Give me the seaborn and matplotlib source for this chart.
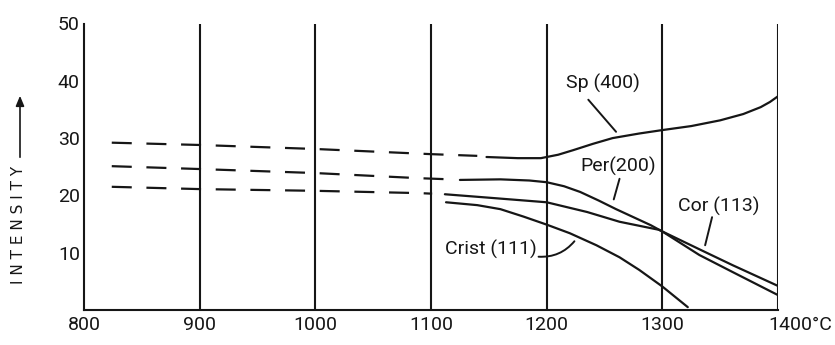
import numpy as np
import pandas as pd
import matplotlib
matplotlib.use("Agg")
import matplotlib.pyplot as plt
import matplotlib.transforms as mtransforms
import seaborn as sns

# ---------------- data ----------------
x_ticks = [800, 900, 1000, 1100, 1200, 1300, 1400]
x_tick_labels = ["800", "900", "1000", "1100", "1200", "1300", "1400°C"]
y_ticks = [10, 20, 30, 40, 50]
y_tick_labels = ["10", "20", "30", "40", "50"]
grid_x = [900, 1000, 1100, 1200, 1300, 1400]

# Sp(400)
sp_dash_x = [824, 900, 1000, 1100, 1140]
sp_dash_y = [29.2, 28.8, 28.1, 27.2, 26.9]
sp_x = [1148, 1175, 1195, 1210, 1223, 1240, 1257, 1280, 1300, 1325, 1350, 1370, 1385, 1393, 1400]
sp_y = [26.7, 26.5, 26.5, 27.1, 27.9, 29.0, 30.0, 30.8, 31.4, 32.1, 33.1, 34.2, 35.4, 36.3, 37.3]

# Per(200)
per_dash_x = [824, 900, 1000, 1090, 1117]
per_dash_y = [25.1, 24.6, 23.9, 23.0, 22.8]
per_x = [1125, 1160, 1185, 1200, 1215, 1229, 1245, 1260, 1275, 1290, 1300, 1332, 1361, 1400]
per_y = [22.7, 22.8, 22.6, 22.3, 21.6, 20.6, 19.1, 17.6, 16.2, 14.8, 13.7, 9.6, 6.6, 2.6]

# Cor(113)
cor_dash_x = [824, 900, 1000, 1090, 1101]
cor_dash_y = [21.5, 21.1, 20.8, 20.4, 20.3]
cor_x = [1112, 1150, 1200, 1235, 1263, 1297, 1332, 1361, 1400]
cor_y = [20.2, 19.6, 18.8, 17.1, 15.4, 14.0, 10.6, 7.8, 4.2]

# Crist(111)
crist_x = [1113, 1140, 1160, 1180, 1200, 1220, 1243, 1263, 1280, 1300, 1322]
crist_y = [18.8, 18.3, 17.6, 16.3, 14.9, 13.4, 11.3, 9.2, 7.0, 4.1, 0.5]

# labels: (text, text x, text y, horizontal alignment, pointer start, pointer end, curvature)
labels = [
    ("Sp (400)", 1249, 39.6, "center", (1236, 36.7), (1260, 31.1), 0.0),
    ("Per(200)", 1262, 25.0, "center", (1263, 22.9), (1258, 19.3), 0.0),
    ("Cor (113)", 1349, 18.0, "center", (1343, 16.2), (1337, 11.3), 0.0),
    ("Crist (111)", 1191, 10.6, "right", (1193, 9.3), (1224, 12.0), 0.25),
]

# ---------------- style ----------------
sns.set_style("white")
plt.rcParams["font.family"] = ["Roboto", "DejaVu Sans"]
INK = "#161616"
LW = 1.6

fig = plt.figure(figsize=(8.35, 3.45), dpi=100)
ax = fig.add_axes([84 / 835, 1 - 310 / 345, (778 - 84) / 835, (310 - 23.5) / 345])

dash_style = (0, (9.0, 6.6))
for dx, dy in [(sp_dash_x, sp_dash_y), (per_dash_x, per_dash_y), (cor_dash_x, cor_dash_y)]:
    sns.lineplot(x=dx, y=dy, ax=ax, color=INK, lw=LW, linestyle=dash_style)
for sx, sy in [(sp_x, sp_y), (per_x, per_y), (cor_x, cor_y), (crist_x, crist_y)]:
    sns.lineplot(x=sx, y=sy, ax=ax, color=INK, lw=LW)

for gx in grid_x:
    ax.axvline(gx, color=INK, lw=1.5, zorder=0)

ax.set_xlim(800, 1400)
ax.set_ylim(0, 50)
for s in ["top", "right"]:
    ax.spines[s].set_visible(False)
for s in ["left", "bottom"]:
    ax.spines[s].set_color(INK)
    ax.spines[s].set_linewidth(1.5)

ax.set_xticks(x_ticks)
ax.set_xticklabels(x_tick_labels)
ax.set_yticks(y_ticks)
ax.set_yticklabels(y_tick_labels)
ax.tick_params(axis="both", length=0, labelsize=14, colors=INK)
ax.tick_params(axis="x", pad=4)
ax.tick_params(axis="y", pad=3)
# shift "1400°C" so that the number sits under its line
lbl = ax.get_xticklabels()[-1]
lbl.set_transform(lbl.get_transform() + mtransforms.ScaledTranslation(0.22, 0, fig.dpi_scale_trans))

ax.set_xlabel("")
ax.set_ylabel("")

for text, tx, ty, ha, p0, p1, rad in labels:
    ax.text(tx, ty, text, ha=ha, va="center", fontsize=14, color=INK)
    ax.annotate("", xy=p1, xytext=p0,
                arrowprops=dict(arrowstyle="-", color=INK, lw=1.4, shrinkA=0, shrinkB=0,
                                connectionstyle=f"arc3,rad={rad}"))

# y axis label with arrow
fig.text(19 / 835, 1 - 225 / 345, "I N T E N S I T Y", rotation=90, ha="center", va="center",
         fontsize=11, color=INK, family=["DejaVu Sans"])
fig.add_artist(matplotlib.patches.FancyArrowPatch(
    (20 / 835, 1 - 160 / 345), (20 / 835, 1 - 93 / 345), transform=fig.transFigure,
    arrowstyle="-|>,head_length=6,head_width=2.5", color=INK, lw=1.2, mutation_scale=1))

fig.savefig("out.png", dpi=100, facecolor="white")
